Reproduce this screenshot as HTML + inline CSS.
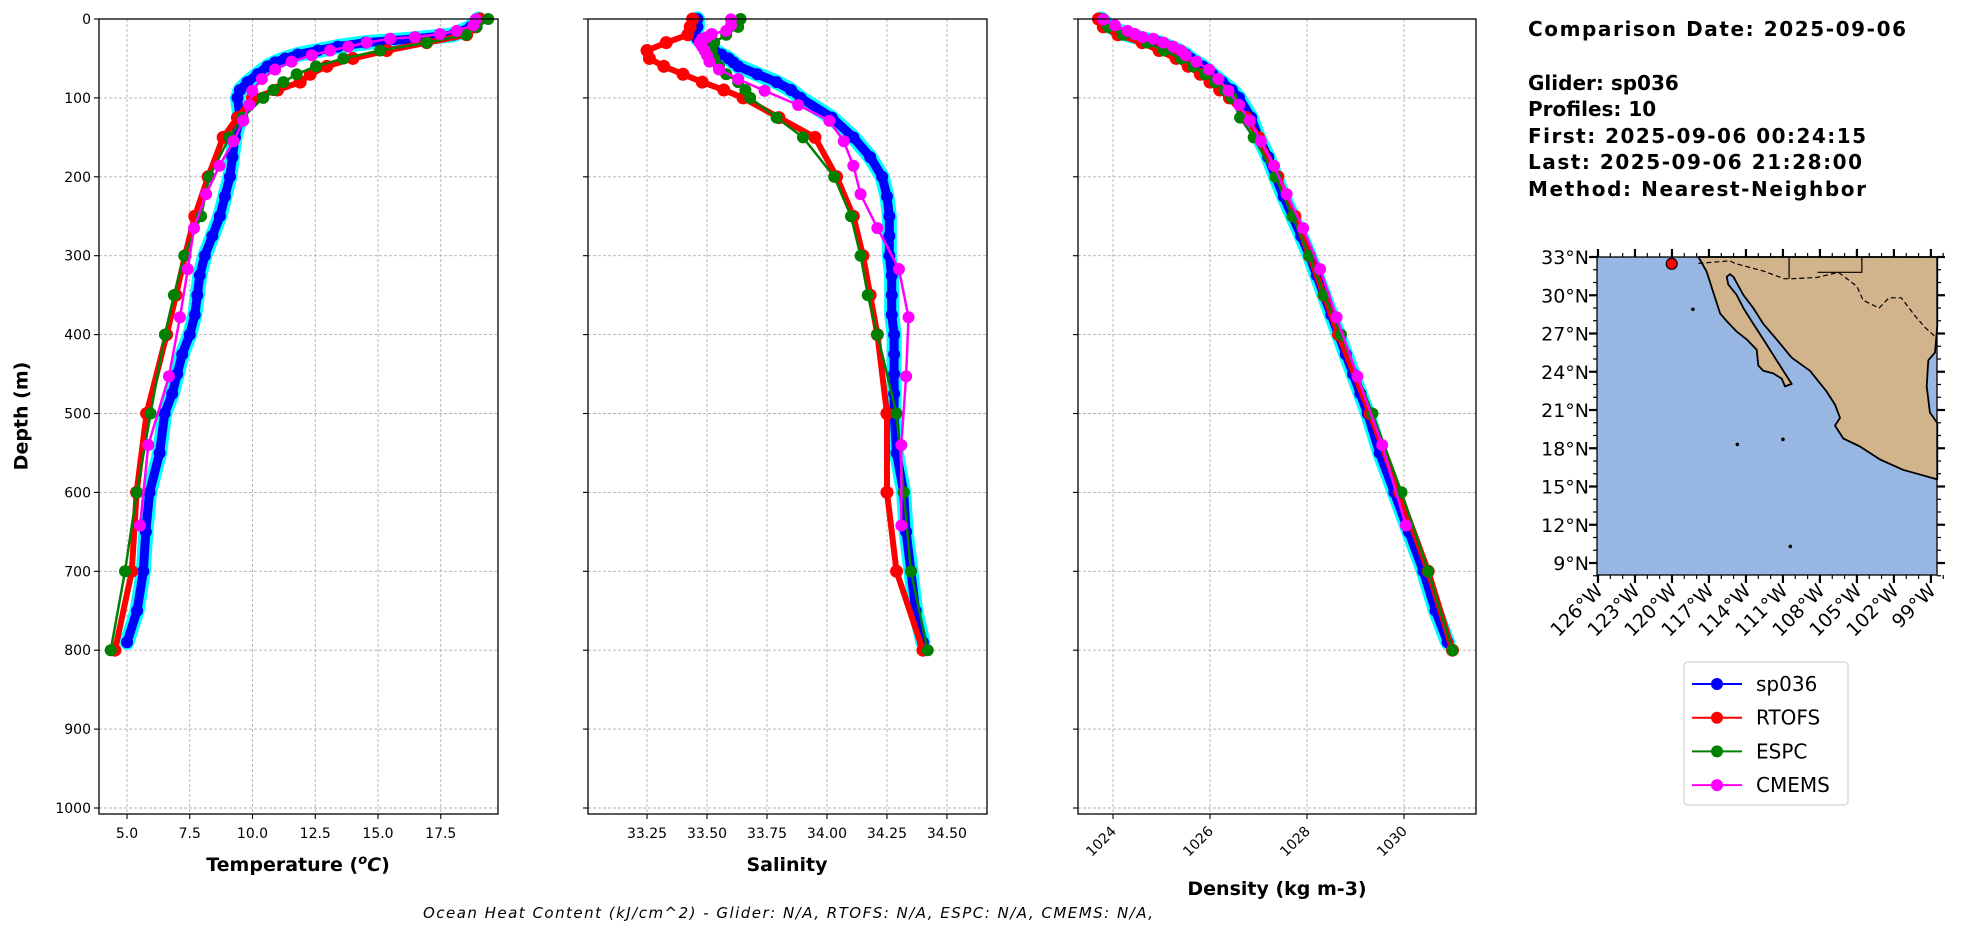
<!DOCTYPE html>
<html><head><meta charset="utf-8"><style>
html,body{margin:0;padding:0;background:#fff;}
svg{display:block;font-family:"DejaVu Sans","Liberation Sans",sans-serif;}
</style></head><body>
<svg id="chart" width="1978" height="934" viewBox="0 0 1978 934" xmlns="http://www.w3.org/2000/svg">
<rect width="1978" height="934" fill="#fff"/>
<g id="panels"></g>
<text x="22" y="416" transform="rotate(-90 22 416)" text-anchor="middle" font-weight="bold" font-size="19" dominant-baseline="middle">Depth (m)</text>
<text x="298" y="871" text-anchor="middle" font-weight="bold" font-size="19">Temperature (<tspan font-style="italic" font-size="13" dy="-7">o</tspan><tspan font-style="italic" dy="7">C</tspan>)</text>
<text x="787" y="871" text-anchor="middle" font-weight="bold" font-size="19">Salinity</text>
<text x="1277" y="895" text-anchor="middle" font-weight="bold" font-size="19">Density (kg m-3)</text>
<text x="788" y="918" text-anchor="middle" font-style="italic" font-size="15" textLength="730">Ocean Heat Content (kJ/cm^2) - Glider: N/A,  RTOFS: N/A,  ESPC: N/A,  CMEMS: N/A,</text>
<g font-weight="bold" font-size="20">
<text x="1528" y="36" textLength="378">Comparison Date: 2025-09-06</text>
<text x="1528" y="90">Glider: sp036</text>
<text x="1528" y="116">Profiles: 10</text>
<text x="1528" y="143" textLength="338">First: 2025-09-06 00:24:15</text>
<text x="1528" y="169" textLength="334">Last: 2025-09-06 21:28:00</text>
<text x="1528" y="196" textLength="338">Method: Nearest-Neighbor</text>
</g>
<g id="map"></g>
<g id="legend"></g>
</svg>
<script>
// ---------- data ----------
const gliderDepth=[0,10,20,25,30,35,40,45,50,55,60,70,80,90,100,125,150,175,200,225,250,275,300,325,350,375,400,425,450,475,500,550,600,650,700,750,790];
const gliderTemp=[19.0,18.7,18.0,16.5,14.5,13.4,12.6,11.8,11.3,10.9,10.6,10.2,9.8,9.5,9.4,9.5,9.3,9.2,9.1,8.9,8.7,8.4,8.1,7.9,7.8,7.7,7.5,7.2,7.0,6.8,6.5,6.3,5.9,5.75,5.65,5.4,5.0];
const gliderSal=[33.46,33.46,33.45,33.46,33.48,33.51,33.53,33.56,33.59,33.61,33.63,33.71,33.79,33.85,33.89,34.02,34.11,34.18,34.23,34.25,34.26,34.26,34.26,34.27,34.27,34.27,34.28,34.28,34.28,34.28,34.28,34.29,34.32,34.33,34.35,34.37,34.40];
const gliderDens=[1023.75,1023.95,1024.3,1024.6,1024.95,1025.15,1025.35,1025.5,1025.6,1025.72,1025.85,1026.05,1026.25,1026.45,1026.6,1026.85,1027.0,1027.2,1027.35,1027.52,1027.7,1027.88,1028.05,1028.2,1028.35,1028.5,1028.65,1028.8,1028.95,1029.1,1029.25,1029.5,1029.8,1030.1,1030.4,1030.65,1030.9];
const modelDepth=[0,10,20,30,40,50,60,70,80,90,100,125,150,200,250,300,350,400,500,600,700,800];
const rtofsTemp=[19.06,18.9,18.53,16.94,15.35,14.0,12.96,12.3,11.9,11.0,10.0,9.4,8.83,8.23,7.7,7.31,6.95,6.58,5.78,5.38,5.19,4.52];
const rtofsSal=[33.44,33.43,33.42,33.33,33.25,33.26,33.32,33.40,33.48,33.57,33.65,33.80,33.95,34.04,34.11,34.15,34.18,34.21,34.25,34.25,34.29,34.40];
const rtofsDens=[1023.7,1023.8,1024.1,1024.6,1024.95,1025.3,1025.55,1025.8,1026.0,1026.2,1026.4,1026.75,1027.0,1027.4,1027.75,1028.05,1028.35,1028.65,1029.3,1029.9,1030.5,1031.0];
const espcTemp=[19.39,18.93,18.5,16.94,15.08,13.62,12.53,11.76,11.23,10.83,10.43,9.6,9.08,8.28,7.95,7.28,6.87,6.51,5.94,5.39,4.92,4.35];
const espcSal=[33.64,33.63,33.58,33.53,33.52,33.53,33.55,33.58,33.63,33.66,33.68,33.79,33.90,34.03,34.10,34.14,34.17,34.21,34.29,34.32,34.35,34.42];
const espcDens=[1023.8,1023.9,1024.2,1024.7,1025.05,1025.4,1025.65,1025.9,1026.1,1026.3,1026.45,1026.62,1026.9,1027.35,1027.7,1028.05,1028.35,1028.7,1029.35,1029.95,1030.5,1031.0];
const cmemsDepth=[0.5,8,15,19,23,25,30,35,40,46,54,64,76,91,109,129,155,186,222,265,317,378,453,540,642];
const cmemsTemp=[18.9,18.8,18.13,17.47,16.47,15.48,14.55,13.82,13.09,12.36,11.56,10.9,10.37,9.99,9.87,9.63,9.24,8.68,8.15,7.67,7.42,7.11,6.67,5.85,5.52];
const cmemsSal=[33.60,33.60,33.58,33.52,33.50,33.48,33.47,33.48,33.49,33.50,33.51,33.55,33.63,33.74,33.88,34.01,34.07,34.11,34.14,34.21,34.30,34.34,34.33,34.31,34.31];
const cmemsDens=[1023.8,1024.04,1024.3,1024.45,1024.61,1024.83,1025.04,1025.24,1025.4,1025.5,1025.72,1025.98,1026.17,1026.38,1026.6,1026.82,1027.05,1027.32,1027.58,1027.92,1028.27,1028.61,1029.04,1029.55,1030.04];
const depthTicks=[0,100,200,300,400,500,600,700,800,900,1000];
const tempTicks=[5.0,7.5,10.0,12.5,15.0,17.5];
const salTicks=[33.25,33.50,33.75,34.00,34.25,34.50];
const densTicks=[1024,1026,1028,1030];
const latTicks=[9,12,15,18,21,24,27,30,33];
const lonTicks=[-126,-123,-120,-117,-114,-111,-108,-105,-102,-99];
const gliderLon=[-120.02];
const gliderLat=[32.47];
const landLon=[-117.86,-117.19,-116.65,-116.1,-115.56,-114.75,-113.94,-113.13,-113.0,-112.59,-111.78,-111.1,-110.83,-110.29,-110.7,-111.51,-112.32,-113.4,-114.21,-114.75,-115.43,-115.56,-115.29,-115.02,-114.21,-113.4,-112.59,-111.51,-110.29,-108.81,-107.45,-106.78,-106.37,-106.78,-106.1,-104.75,-103.13,-101.24,-98.48,-98.48,-99.08,-99.34,-99.21,-98.67,-98.48,-98.48];
const landLat=[33.0,31.86,30.22,28.58,27.97,27.15,26.54,25.72,24.49,24.08,23.87,23.46,22.85,23.05,23.67,24.9,26.13,27.76,28.99,30.02,30.84,31.45,31.65,31.45,30.02,28.99,27.76,26.54,25.1,24.08,22.44,21.42,20.39,19.78,18.76,18.14,17.12,16.3,15.56,19.98,20.8,22.85,24.9,25.51,27.6,33.0];
const borderLon=[-117.86,-115.3,-114.9,-112.6,-110.9,-110.2,-108.2,-106.5,-105.0,-104.5,-103.2,-102.4,-101.4,-100.3,-99.5,-98.48];
const borderLat=[32.5,32.7,32.5,31.9,31.3,31.3,31.4,31.8,30.7,29.6,29.0,29.8,29.8,28.4,27.5,26.6];
const series=[{name:'sp036',color:'#0000ff'},{name:'RTOFS',color:'#ff0000'},{name:'ESPC',color:'#008000'},{name:'CMEMS',color:'#ff00ff'}];

// ---------- helpers ----------
const NS='http://www.w3.org/2000/svg';
function mk(tag,attrs,parent){const e=document.createElementNS(NS,tag);for(const k in attrs)e.setAttribute(k,attrs[k]);parent.appendChild(e);return e;}
const yD=d=>19+d*0.789;
const panelsG=document.getElementById('panels');

function panel(key,x0,x1,xmin,xmax,ticks,fmt,rotate,showY){
  const xs=v=>x0+(v-xmin)/(xmax-xmin)*(x1-x0);
  const g=mk('g',{},panelsG);
  
  
  depthTicks.forEach(d=>{
    const l=mk('line',{x1:x0,x2:x1,y1:yD(d),y2:yD(d),stroke:'#b0b0b0','stroke-width':0.9,'stroke-dasharray':'3,2'},g);
    
    
    const t=mk('line',{x1:x0-5,x2:x0,y1:yD(d),y2:yD(d),stroke:'#000','stroke-width':1.1},g);
    
    
    if(showY){const tx=mk('text',{x:x0-8,y:yD(d)+5,'text-anchor':'end','font-size':14},g);tx.textContent=d;
      
      }
  });
  ticks.forEach(v=>{
    const X=xs(v);
    const l=mk('line',{x1:X,x2:X,y1:19,y2:814,stroke:'#b0b0b0','stroke-width':0.9,'stroke-dasharray':'3,2'},g);
    
    
    const t=mk('line',{x1:X,x2:X,y1:814,y2:819,stroke:'#000','stroke-width':1.1},g);
    
    
    let tx;
    if(rotate){tx=mk('text',{x:X+4,y:832,'text-anchor':'end','font-size':14,transform:`rotate(-45 ${X+4} 832)`},g);}
    else{tx=mk('text',{x:X,y:838,'text-anchor':'middle','font-size':14},g);}
    tx.textContent=fmt(v);
    
    
  });
  return {g,xs};
}
function line(P,depths,vals,color,lw,r,name,halo){
  const pts=depths.map((d,i)=>P.xs(vals[i]).toFixed(1)+','+yD(d).toFixed(1)).join(' ');
  const sg=mk('g',{},P.g);
  
  
  if(halo){const h=mk('polyline',{points:pts,fill:'none',stroke:'#00ffff','stroke-width':halo,'stroke-linejoin':'round','stroke-linecap':'round'},sg);
    
    }
  const pl=mk('polyline',{points:pts,fill:'none',stroke:color,'stroke-width':lw,'stroke-linejoin':'round'},sg);
  
  
  depths.forEach((d,i)=>{
    const c=mk('circle',{cx:P.xs(vals[i]),cy:yD(d),r:r,fill:color},sg);
    
    
  });
}
function frame(P,x0,x1){
  const f=mk('rect',{x:x0,y:19,width:x1-x0,height:795,fill:'none',stroke:'#000','stroke-width':1.3},P.g);
  
  
}
function drawAll(P,gv,rv,ev,cv){
  line(P,gliderDepth,gv,'#0000ff',9,6,'glider',15);
  line(P,modelDepth,rv,'#ff0000',6,6.5,'rtofs');
  line(P,modelDepth,ev,'#008000',2.5,6,'espc');
  line(P,cmemsDepth,cv,'#ff00ff',2.5,6,'cmems');
}
const PT=panel('temperature',99,498,3.884,19.78,tempTicks,v=>v.toFixed(1),false,true);
drawAll(PT,gliderTemp,rtofsTemp,espcTemp,cmemsTemp);frame(PT,99,498);
const PS=panel('salinity',588,987,33.004,34.667,salTicks,v=>v.toFixed(2),false,false);
drawAll(PS,gliderSal,rtofsSal,espcSal,cmemsSal);frame(PS,588,987);
const PD=panel('density',1078,1476,1023.278,1031.485,densTicks,v=>String(v),true,false);
drawAll(PD,gliderDens,rtofsDens,espcDens,cmemsDens);frame(PD,1078,1476);

// ---------- map ----------
const mapG=document.getElementById('map');


const lonX=lon=>1597+(lon+126.08)*12.33;
const latY=lat=>257+(33-lat)*12.75;
const ocean=mk('rect',{x:1597,y:257,width:340,height:318,fill:'#97b6e1'},mapG);


const land=mk('polygon',{points:landLon.map((l,i)=>lonX(l).toFixed(1)+','+latY(landLat[i]).toFixed(1)).join(' '),fill:'#d2b48c',stroke:'#000','stroke-width':1.8,'stroke-linejoin':'round'},mapG);


const border=mk('polyline',{points:borderLon.map((l,i)=>lonX(l).toFixed(1)+','+latY(borderLat[i]).toFixed(1)).join(' '),fill:'none',stroke:'#000','stroke-width':1.2,'stroke-dasharray':'5,3'},mapG);


const state=mk('polyline',{points:`${lonX(-110.5)},257 ${lonX(-110.5)},${latY(31.3)}`,fill:'none',stroke:'#000','stroke-width':1.2},mapG);


const state2=mk('polyline',{points:`${lonX(-108.2)},${latY(31.8)} ${lonX(-104.6)},${latY(31.8)} ${lonX(-104.6)},257`,fill:'none',stroke:'#000','stroke-width':1.2},mapG);


[[-118.3,28.9],[-111.0,18.7],[-114.7,18.3],[-110.4,10.3]].forEach(p=>{
  const c=mk('circle',{cx:lonX(p[0]),cy:latY(p[1]),r:1.8,fill:'#000'},mapG);
  
  
});
gliderLon.forEach((l,i)=>{
  const c=mk('circle',{cx:lonX(l),cy:latY(gliderLat[i]),r:5.5,fill:'#ff0000',stroke:'#000','stroke-width':1.2},mapG);
  
  
});
const mf=mk('rect',{x:1597,y:257,width:340,height:318,fill:'none',stroke:'#000','stroke-width':1.3},mapG);


for(let lat=8;lat<=33;lat++){
  const Y=latY(lat),major=latTicks.includes(lat),len=major?8:4;
  mk('line',{x1:1597-len,x2:1597,y1:Y,y2:Y,stroke:'#000','stroke-width':major?2.2:1.2},mapG);
  mk('line',{x1:1937,x2:1937+len,y1:Y,y2:Y,stroke:'#000','stroke-width':major?2.2:1.2},mapG);
}
latTicks.forEach(lat=>{
  const t=mk('text',{x:1589,y:latY(lat)+7,'text-anchor':'end','font-size':19},mapG);
  t.textContent=lat+'°N';
  
  
});
for(let lon=-126;lon<=-98;lon++){
  const X=lonX(lon),major=lonTicks.includes(lon),len=major?8:4;
  mk('line',{x1:X,x2:X,y1:575,y2:575+len,stroke:'#000','stroke-width':major?2.2:1.2},mapG);
  mk('line',{x1:X,x2:X,y1:257-len,y2:257,stroke:'#000','stroke-width':major?2.2:1.2},mapG);
}
lonTicks.forEach(lon=>{
  const X=lonX(lon)+6,Y=592;
  const t=mk('text',{x:X,y:Y,'text-anchor':'end','font-size':19,transform:`rotate(-45 ${X} ${Y})`},mapG);
  t.textContent=(-lon)+'°W';
  
  
});

// ---------- legend ----------
const lg=document.getElementById('legend');
const box=mk('rect',{x:1684,y:662,width:164,height:143,rx:4,fill:'#fff',stroke:'#d0d0d0','stroke-width':1.2},lg);


series.forEach((s,i)=>{
  const Y=684+i*33.7;
  const e=mk('g',{},lg);
  
  
  mk('line',{x1:1692,x2:1742,y1:Y,y2:Y,stroke:s.color,'stroke-width':2},e);
  mk('circle',{cx:1717,cy:Y,r:6,fill:s.color},e);
  const t=mk('text',{x:1756,y:Y+7,'font-size':20},e);
  t.textContent=s.name;
});
</script>
</body></html>
